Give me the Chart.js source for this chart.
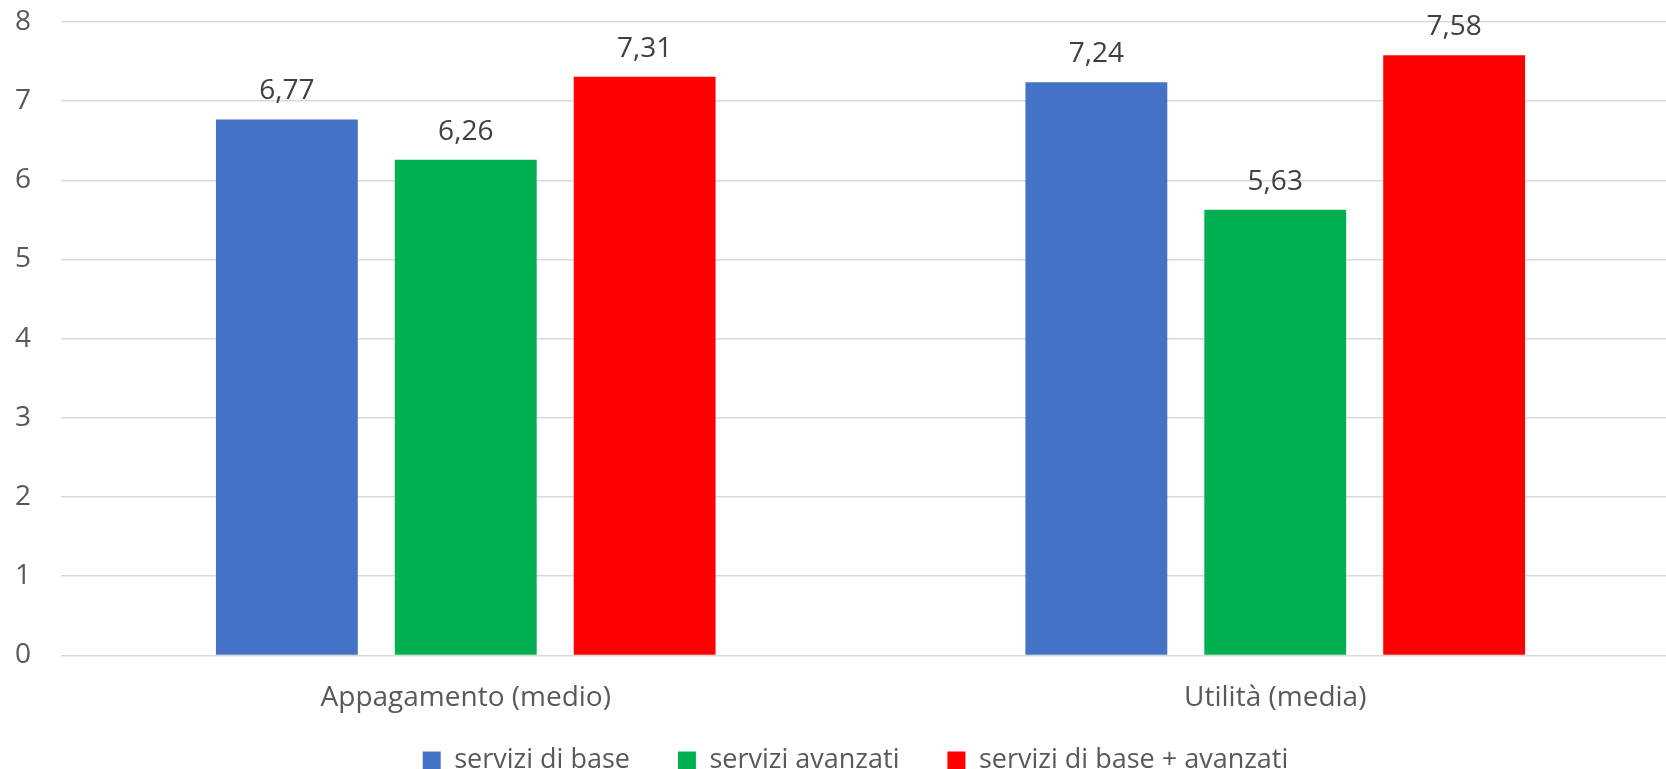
<!DOCTYPE html>
<html>
<head>
<meta charset="utf-8">
<script src="https://cdn.jsdelivr.net/npm/chart.js@4"></script>
<style>
  html, body { margin: 0; padding: 0; background: #ffffff; overflow: hidden; }
  #wrap { position: absolute; left: 0; top: 0; width: 1720px; height: 826px; }
</style>
</head>
<body>
<div id="wrap"><canvas id="c" width="1720" height="826"></canvas></div>
<script>
const categories = ["Appagamento (medio)", "Utilità (media)"];
const seriesNames = ["servizi di base", "servizi avanzati", "servizi di base + avanzati"];
const serviziDiBase = [6.77, 7.24];
const serviziAvanzati = [6.26, 5.63];
const serviziBaseAvanzati = [7.31, 7.58];
const yTicks = [0, 1, 2, 3, 4, 5, 6, 7, 8];
const seriesColors = ["#4472C4", "#00B050", "#FF0000"];

const FONT = "'Open Sans', 'DejaVu Sans', sans-serif";

const valueLabels = {
  id: 'valueLabels',
  afterDatasetsDraw(chart) {
    const ctx = chart.ctx;
    ctx.save();
    ctx.font = "28px " + FONT;
    ctx.fillStyle = "#404040";
    ctx.textAlign = "center";
    ctx.textBaseline = "alphabetic";
    chart.data.datasets.forEach((ds, di) => {
      const meta = chart.getDatasetMeta(di);
      meta.data.forEach((bar, i) => {
        const v = ds.data[i];
        ctx.fillText(v.toFixed(2).replace('.', ','), bar.x, bar.y - 20);
      });
    });
    ctx.restore();
  }
};

// move the legend box (layout stays as computed)
const legendShift = {
  id: 'legendShift',
  afterLayout(chart) {
    const lg = chart.legend;
    if (!lg) return;
    const dy = -42, dx = 23;
    lg.top += dy; lg.bottom += dy;
    lg.left += dx; lg.right += dx;
  }
};

const seriesData = [serviziDiBase, serviziAvanzati, serviziBaseAvanzati];

new Chart(document.getElementById('c'), {
  type: 'bar',
  data: {
    labels: categories,
    datasets: seriesNames.map((name, i) => ({
      label: name,
      data: seriesData[i],
      backgroundColor: seriesColors[i],
      borderWidth: 0,
      categoryPercentage: 0.663,
      barPercentage: 0.793
    }))
  },
  options: {
    responsive: false,
    animation: false,
    layout: { padding: { left: -15, right: 40, top: 22, bottom: 0 } },
    plugins: {
      legend: {
        position: 'bottom',
        labels: {
          font: { family: FONT, size: 27 },
          color: '#595959',
          boxWidth: 18,
          boxHeight: 18,
          padding: 48
        }
      },
      tooltip: { enabled: false }
    },
    scales: {
      x: {
        grid: { display: false, drawTicks: false },
        border: { display: false },
        ticks: { font: { family: FONT, size: 28 }, color: '#595959', padding: 26 }
      },
      y: {
        min: 0,
        max: 8,
        afterBuildTicks(axis) { axis.ticks = yTicks.map(v => ({ value: v })); },
        afterFit(axis) { axis.paddingTop = 0; axis.paddingBottom = 0; },
        grid: { color: '#d9d9d9', lineWidth: 1.5, drawTicks: false },
        border: { display: false },
        ticks: { font: { family: FONT, size: 28 }, color: '#595959', padding: 30 }
      }
    }
  },
  plugins: [valueLabels, legendShift]
});
</script>
</body>
</html>
